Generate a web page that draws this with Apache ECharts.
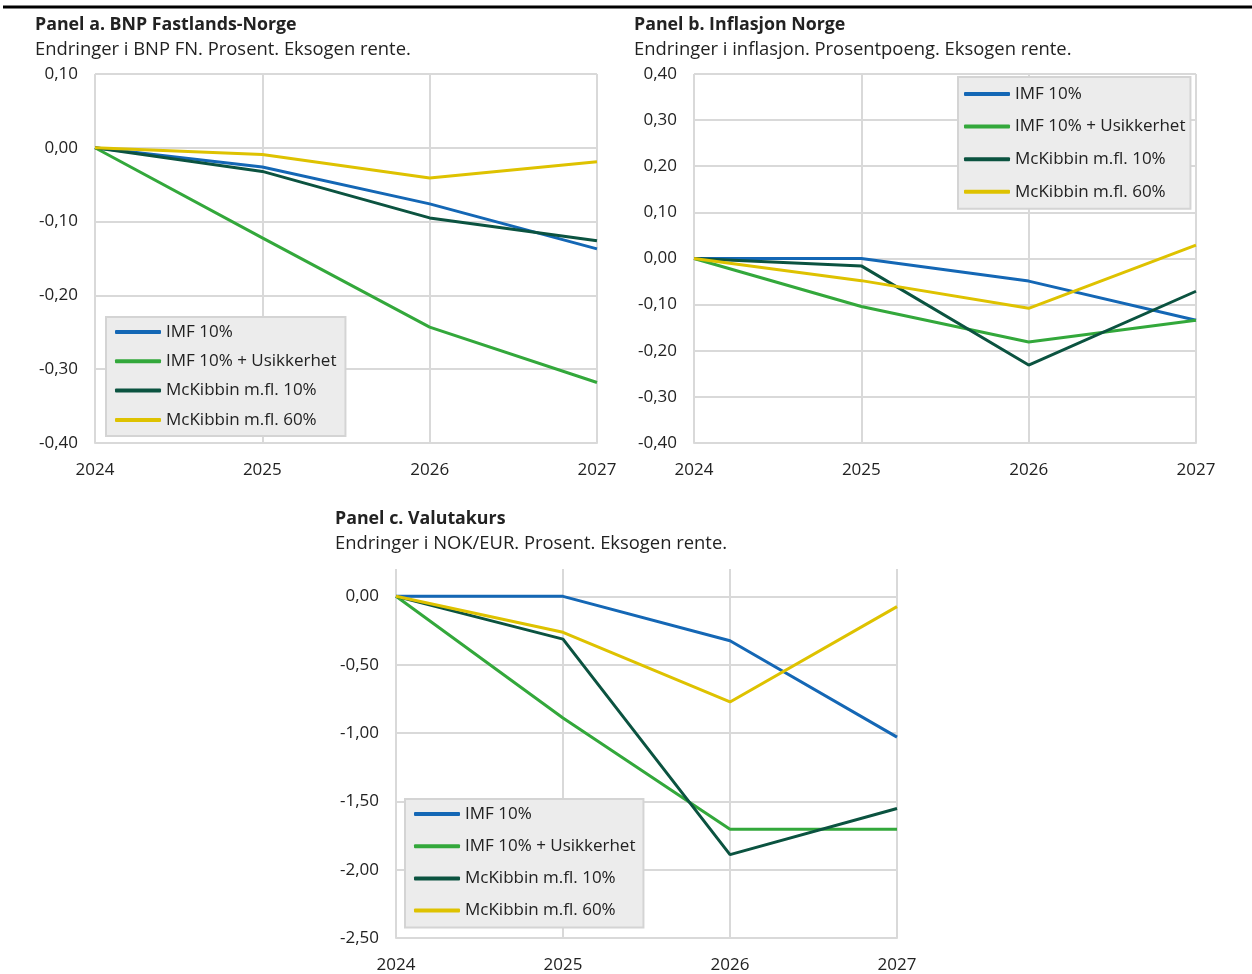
<!DOCTYPE html>
<html>
<head>
<meta charset="utf-8">
<title>Virkninger av tollscenarioer</title>
<script src="https://cdn.jsdelivr.net/npm/echarts@6/dist/echarts.min.js"></script>
<style>
  html, body { margin: 0; padding: 0; background: #ffffff; }
  #chart { width: 1252px; height: 974px; }
</style>
</head>
<body>
<div id="chart"></div>
<script>
// Years on the horizontal axis
const years = ['2024', '2025', '2026', '2027'];

// Scenario names (legend)
const scenarioNames = ['IMF 10%', 'IMF 10% + Usikkerhet', 'McKibbin m.fl. 10%', 'McKibbin m.fl. 60%'];

// Panel a: BNP Fastlands-Norge, prosent
const bnpImf10 = [0, -0.026, -0.076, -0.137];
const bnpImf10Usikkerhet = [0, -0.122, -0.243, -0.318];
const bnpMcKibbin10 = [0, -0.032, -0.095, -0.126];
const bnpMcKibbin60 = [0, -0.009, -0.041, -0.019];

// Panel b: Inflasjon Norge, prosentpoeng
const inflImf10 = [0, 0, -0.049, -0.134];
const inflImf10Usikkerhet = [0, -0.104, -0.181, -0.134];
const inflMcKibbin10 = [0, -0.016, -0.231, -0.071];
const inflMcKibbin60 = [0, -0.048, -0.108, 0.029];

// Panel c: Valutakurs NOK/EUR, prosent
const fxImf10 = [0, 0, -0.325, -1.03];
const fxImf10Usikkerhet = [0, -0.89, -1.705, -1.705];
const fxMcKibbin10 = [0, -0.313, -1.89, -1.552];
const fxMcKibbin60 = [0, -0.263, -0.773, -0.075];

// Panel headings
const panelTitles = ['Panel a. BNP Fastlands-Norge', 'Panel b. Inflasjon Norge', 'Panel c. Valutakurs'];
const panelSubtitles = [
  'Endringer i BNP FN. Prosent. Eksogen rente.',
  'Endringer i inflasjon. Prosentpoeng. Eksogen rente.',
  'Endringer i NOK/EUR. Prosent. Eksogen rente.'
];

const lineColors = ['#1467b5', '#33a83b', '#0b5340', '#dec200'];
const gridColor = '#d9d9d9';
const textColor = '#222222';
const fontFamily = '"Open Sans", "Noto Sans", sans-serif';

const panelData = [
  [bnpImf10, bnpImf10Usikkerhet, bnpMcKibbin10, bnpMcKibbin60],
  [inflImf10, inflImf10Usikkerhet, inflMcKibbin10, inflMcKibbin60],
  [fxImf10, fxImf10Usikkerhet, fxMcKibbin10, fxMcKibbin60]
];

const fmt = v => v.toFixed(2).replace('.', ',');

const grids = [
  { left: 95, top: 74, width: 502, height: 369 },
  { left: 694, top: 74, width: 502, height: 369 },
  { left: 396, top: 569, width: 501, height: 369 }
];

const yRanges = [
  { min: -0.4, max: 0.1, interval: 0.1 },
  { min: -0.4, max: 0.4, interval: 0.1 },
  { min: -2.5, max: 0.2, interval: 0.5 }
];

const xAxes = grids.map((g, i) => ({
  type: 'category',
  gridIndex: i,
  data: years,
  boundaryGap: false,
  axisLine: { onZero: false, lineStyle: { color: gridColor, width: 2 } },
  axisTick: { show: false },
  axisLabel: { color: textColor, fontSize: 17, fontFamily, margin: 19 },
  splitLine: { show: true, lineStyle: { color: gridColor, width: 2 } }
}));

const yAxes = yRanges.map((r, i) => ({
  type: 'value',
  gridIndex: i,
  min: r.min,
  max: r.max,
  interval: r.interval,
  axisLine: { show: false },
  axisTick: { show: false },
  axisLabel: {
    color: textColor, fontSize: 17, fontFamily, margin: 17,
    padding: [3, 0, 0, 0],
    formatter: fmt,
    showMaxLabel: i !== 2
  },
  splitLine: {
    show: true,
    showMaxLine: i !== 2,
    lineStyle: { color: gridColor, width: 2 }
  }
}));

const series = [];
panelData.forEach((sets, p) => {
  sets.forEach((values, k) => {
    series.push({
      type: 'line',
      name: scenarioNames[k],
      xAxisIndex: p,
      yAxisIndex: p,
      data: values,
      showSymbol: false,
      symbol: 'none',
      color: lineColors[k],
      lineStyle: { width: 3, color: lineColors[k] },
      emphasis: { disabled: true }
    });
  });
});

const titleTops = [13, 13, 507];
const titleLefts = [35, 634, 335];
const titles = panelTitles.map((t, i) => ({
  text: t,
  subtext: panelSubtitles[i],
  left: titleLefts[i],
  top: titleTops[i],
  padding: 0,
  itemGap: 1,
  textStyle: { fontFamily, fontSize: 17.8, fontWeight: 'bold', color: textColor, lineHeight: 24 },
  subtextStyle: { fontFamily, fontSize: 18.4, color: textColor, lineHeight: 24 }
}));

const legendBase = {
  data: scenarioNames,
  orient: 'vertical',
  icon: 'roundRect',
  itemWidth: 46,
  itemHeight: 4,
  selectedMode: false,
  backgroundColor: '#ececec',
  borderColor: '#d4d4d4',
  borderWidth: 2,
  borderRadius: 0,
  textStyle: { fontFamily, fontSize: 17, color: textColor, lineHeight: 20 }
};

const legends = [
  Object.assign({}, legendBase, { left: 106, top: 317, itemGap: 9.3, padding: [5, 9, 6, 9] }),
  Object.assign({}, legendBase, { left: 958, top: 77, itemGap: 12.6, padding: [7, 5, 7, 6] }),
  Object.assign({}, legendBase, { left: 405, top: 799, itemGap: 12.2, padding: [5, 8, 7, 9] })
];

const chart = echarts.init(document.getElementById('chart'), null, { renderer: 'canvas' });
chart.setOption({
  animation: false,
  backgroundColor: '#ffffff',
  title: titles,
  legend: legends,
  grid: grids,
  xAxis: xAxes,
  yAxis: yAxes,
  series: series,
  graphic: [{
    type: 'line',
    shape: { x1: 3, y1: 7, x2: 1252, y2: 7 },
    style: { stroke: '#000000', lineWidth: 3 },
    silent: true
  }]
});
</script>
</body>
</html>
